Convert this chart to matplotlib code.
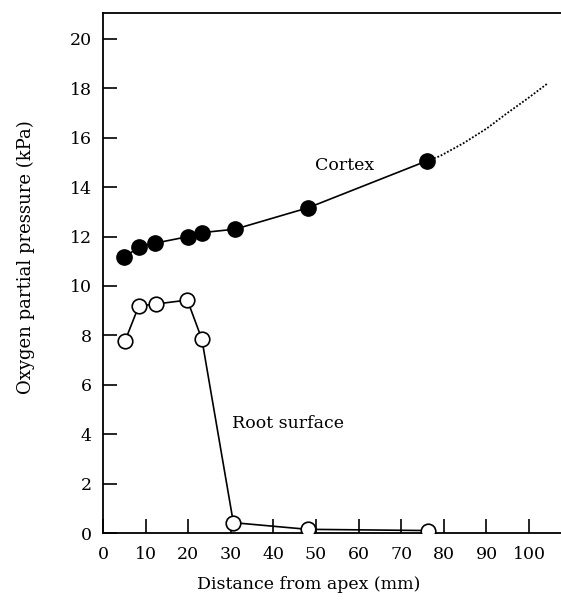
import matplotlib
matplotlib.use("Agg")
import matplotlib.pyplot as plt

# distance from apex (mm) and O2 partial pressure (kPa)
cortex_x = [4.9, 8.4, 12.1, 20.0, 23.2, 31.0, 48.2, 76.1]
cortex_y = [11.16, 11.57, 11.73, 12.0, 12.16, 12.3, 13.17, 15.07]

surface_x = [5.2, 8.4, 12.4, 19.8, 23.2, 30.6, 48.0, 76.2]
surface_y = [7.79, 9.19, 9.27, 9.43, 7.85, 0.42, 0.15, 0.1]

# dotted extrapolation of the cortex curve
extrap_x = [76.1, 79.1, 84.6, 90.1, 94.8, 99.5, 104.2]
extrap_y = [15.07, 15.26, 15.78, 16.38, 16.99, 17.57, 18.18]

x_ticks = list(range(0, 101, 10))
y_ticks = list(range(0, 21, 2))

plt.rcParams['font.family'] = ['DejaVu Serif']

fig = plt.figure(figsize=(5.61, 6.01), dpi=100)
ax = fig.add_axes([0.1836, 0.1131, 0.8164, 0.8648])

ax.plot(extrap_x, extrap_y, color='black', linestyle=(0, (1, 1.0)), linewidth=1.3, zorder=1)
ax.plot(cortex_x, cortex_y, color='black', linewidth=1.2, marker='o', markersize=11,
        markerfacecolor='black', markeredgecolor='black', zorder=3)
ax.plot(surface_x, surface_y, color='black', linewidth=1.2, marker='o', markersize=10.5,
        markerfacecolor='white', markeredgecolor='black', markeredgewidth=1.2, zorder=3)

ax.text(56.6, 14.86, 'Cortex', fontsize=12.5, ha='center', va='center')
ax.text(30.3, 4.45, 'Root surface', fontsize=12.5, ha='left', va='center')

ax.set_xlim(0, 107.5)
ax.set_ylim(0, 21.04)
ax.set_xticks(x_ticks)
ax.set_yticks(y_ticks)
ax.tick_params(direction='in', length=10, width=1.2, labelsize=12.5)
ax.tick_params(axis='x', pad=9)
ax.tick_params(axis='y', pad=8)
ax.spines['right'].set_visible(False)
for s in ['left', 'bottom', 'top']:
    ax.spines[s].set_linewidth(1.3)

ax.set_xlabel('Distance from apex (mm)', fontsize=12.5, labelpad=10, x=0.45)
ax.set_ylabel('Oxygen partial pressure (kPa)', fontsize=13, labelpad=25, y=0.53)

fig.savefig('out.png', dpi=100)
